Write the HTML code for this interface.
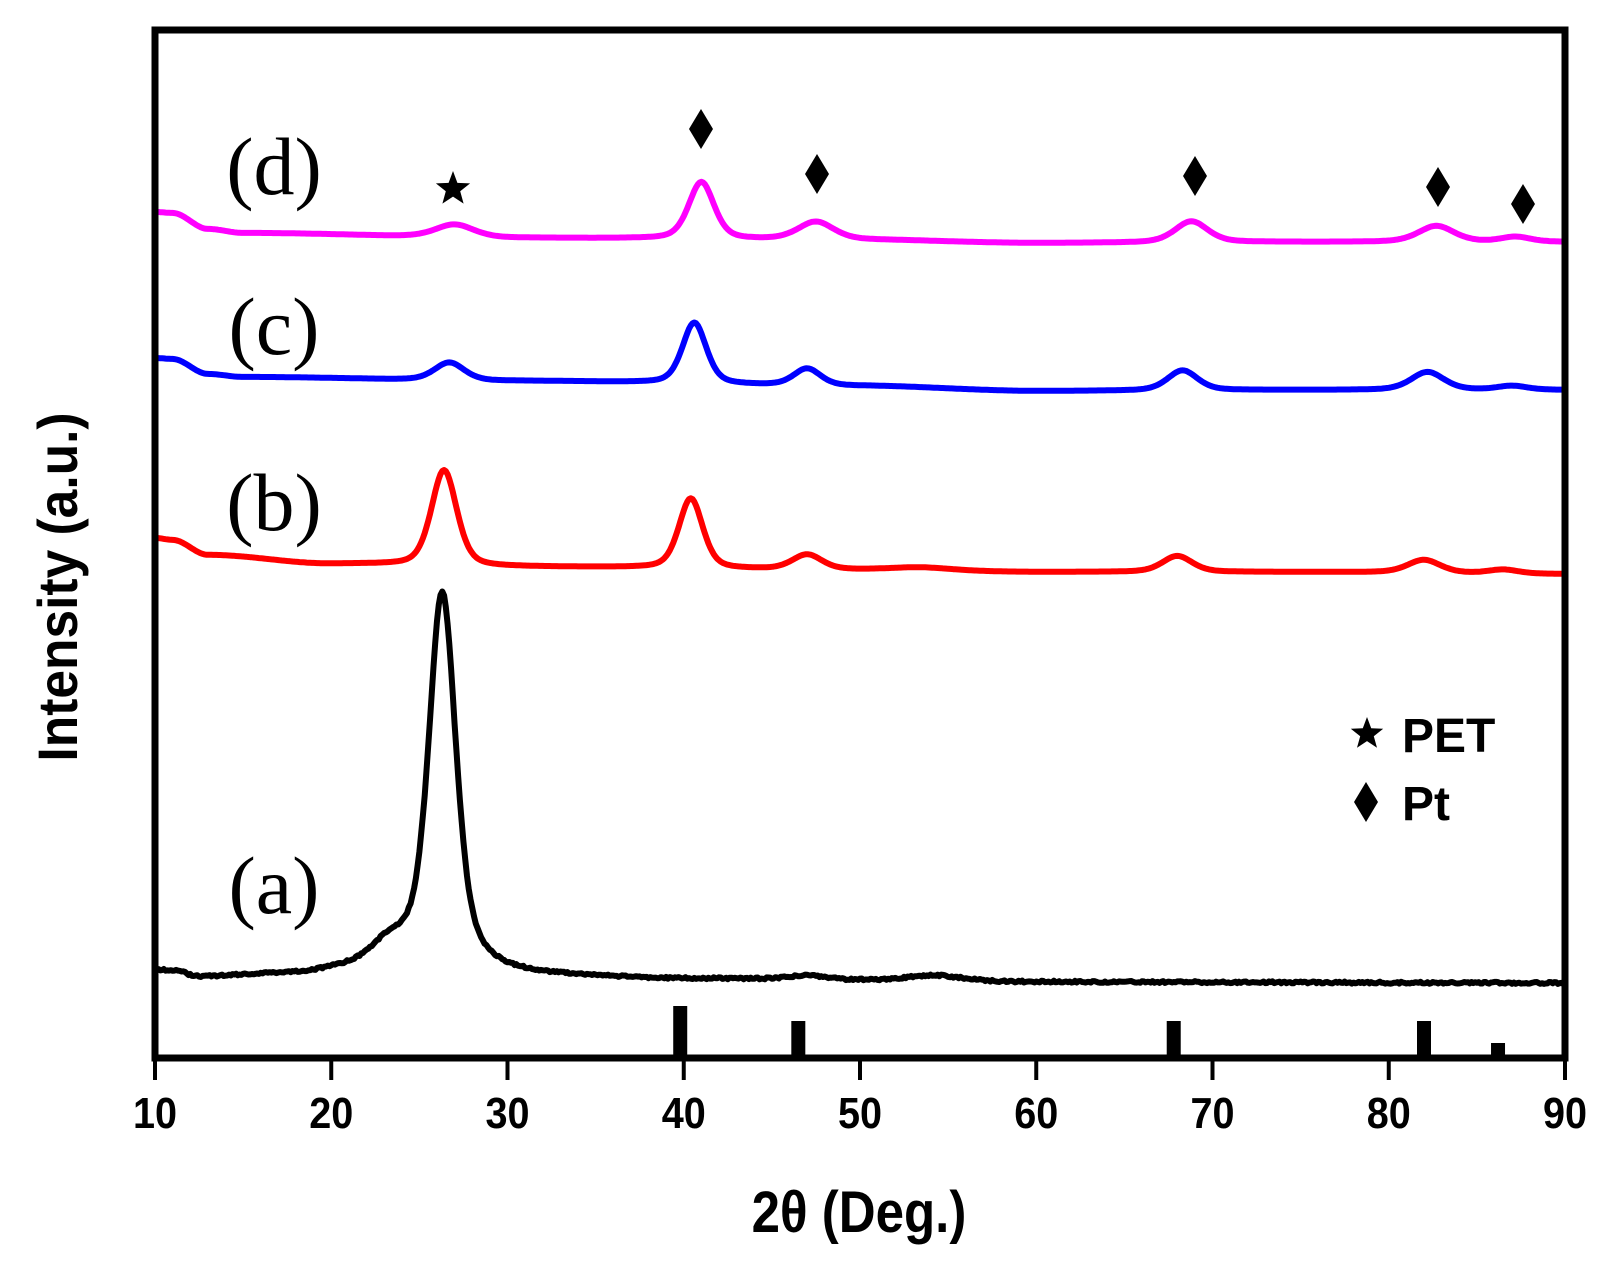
<!DOCTYPE html>
<html><head><meta charset="utf-8"><style>
body{margin:0;background:#fff}
svg{display:block}
</style></head><body>
<svg id="s" width="1615" height="1263" xmlns="http://www.w3.org/2000/svg">
<rect width="1615" height="1263" fill="#fff"/>
<g id="curves" fill="none" stroke-width="6" stroke-linejoin="round"></g>
<rect x="155" y="30" width="1410" height="1028" fill="none" stroke="#000" stroke-width="7"/>
<g id="ticks" stroke="#000" stroke-width="4"></g>
<g id="bars" fill="#000"></g>
<g font-family="Liberation Serif, serif" font-size="82" fill="#000" text-anchor="middle">
<text x="274" y="194">(d)</text>
<text x="274" y="354">(c)</text>
<text x="274" y="530">(b)</text>
<text x="274" y="913">(a)</text>
</g>
<g font-family="Liberation Sans, sans-serif" font-weight="bold" font-size="44" text-anchor="middle" id="tl"></g>
<text transform="translate(859,1232) scale(0.88,1)" font-family="Liberation Sans, sans-serif" font-weight="bold" font-size="58" text-anchor="middle">2θ (Deg.)</text>
<text transform="translate(77,587) rotate(-90) scale(0.92,1)" font-family="Liberation Sans, sans-serif" font-weight="bold" font-size="56" text-anchor="middle">Intensity (a.u.)</text>
<g font-family="Liberation Sans, sans-serif" font-weight="bold" font-size="48">
<text x="1402" y="752">PET</text>
<text x="1402" y="820">Pt</text>
</g>
<g id="marks" fill="#000"></g>
</svg>
<script>
var X=function(d){return 155+(d-10)*17.625;};
var NS="http://www.w3.org/2000/svg";
function el(p,t,a){var e=document.createElementNS(NS,t);for(var k in a)e.setAttribute(k,a[k]);document.getElementById(p).appendChild(e);return e;}
function interp(pts,d){for(var i=0;i<pts.length-1;i++){if(d<=pts[i+1][0]){var t=(d-pts[i][0])/(pts[i+1][0]-pts[i][0]);var s=t*t*(3-2*t);return pts[i][1]+(pts[i+1][1]-pts[i][1])*s;}}return pts[pts.length-1][1];}
function pk(d,c,h,w){var x=(d-c)/w;return h*(0.6*Math.exp(-Math.log(2)*x*x)+0.4/(1+x*x));}
function series(col,base,peaks,noise){var s="";var seed=1;for(var d=10;d<=90.001;d+=0.1){var y=interp(base,d);for(var i=0;i<peaks.length;i++)y-=pk(d,peaks[i][0],peaks[i][1],peaks[i][2]);if(noise){seed=(seed*9301+49297)%233280;y+=(seed/233280-0.5)*noise;}s+=(s?"L":"M")+X(d).toFixed(1)+","+y.toFixed(1);}el("curves","path",{d:s,stroke:col});}
series("#ff00ff",[[10,212],[11,213],[13,229],[15,233],[30,238],[50,240],[60,243],[75,242],[90,242]],
[[27,13,1.3],[41,57,0.85],[47.5,18,1.2],[68.8,21,1.1],[82.7,16,1.2],[87.2,5,1.0]]);
series("#0000ff",[[10,358],[11,359],[13,374],[15,377],[30,381],[50,386],[60,391],[75,390],[90,390]],
[[26.7,18,1.0],[40.6,61,0.8],[47,17,0.9],[68.3,20,1.0],[82.2,18,1.1],[87,4,1.0]]);
series("#ff0000",[[10,538],[11,540],[13,555],[20,564],[30,567],[50,570],[60,572],[75,572],[90,574]],
[[26.4,96,0.85],[40.4,70,0.8],[47,15,1.0],[53.5,3,2],[68,16,1.0],[82,13,1.1],[86.5,4,1]]);
series("#000",[[10,970],[11,971],[12.5,977],[18,974],[21,970],[24,972],[30,975],[40,979],[60,982],[90,983]],
[[23.3,22,1.3],[26.3,350,0.88],[26.3,30,2.2],[47,4,1.2],[54.2,6,1.8]],2);
var labels=[10,20,30,40,50,60,70,80,90];
labels.forEach(function(v){var x=X(v);el("ticks","line",{x1:x,y1:1058,x2:x,y2:1080});var t=el("tl","text",{x:0,y:0,transform:"translate("+x+",1128) scale(0.9,1)"});t.textContent=v;});
[[39.8,1006],[46.5,1021],[67.8,1021],[82,1021],[86.2,1043]].forEach(function(b){el("bars","rect",{x:X(b[0])-7,y:b[1],width:14,height:1058-b[1]});});
function dia(cx,cy){el("marks","polygon",{points:(cx)+","+(cy-20)+" "+(cx+12)+","+cy+" "+cx+","+(cy+20)+" "+(cx-12)+","+cy});}
function star(cx,cy,r){var p=[];for(var i=0;i<10;i++){var a=-Math.PI/2+i*Math.PI/5;var rr=i%2?r*0.42:r;p.push((cx+rr*Math.cos(a)).toFixed(1)+","+(cy+rr*Math.sin(a)).toFixed(1));}el("marks","polygon",{points:p.join(" ")});}
dia(701,129);dia(817,174);dia(1195,176);dia(1438,187);dia(1523,204);dia(1366,802);
star(453,189,18);star(1367,734,17);
</script>
</body></html>
